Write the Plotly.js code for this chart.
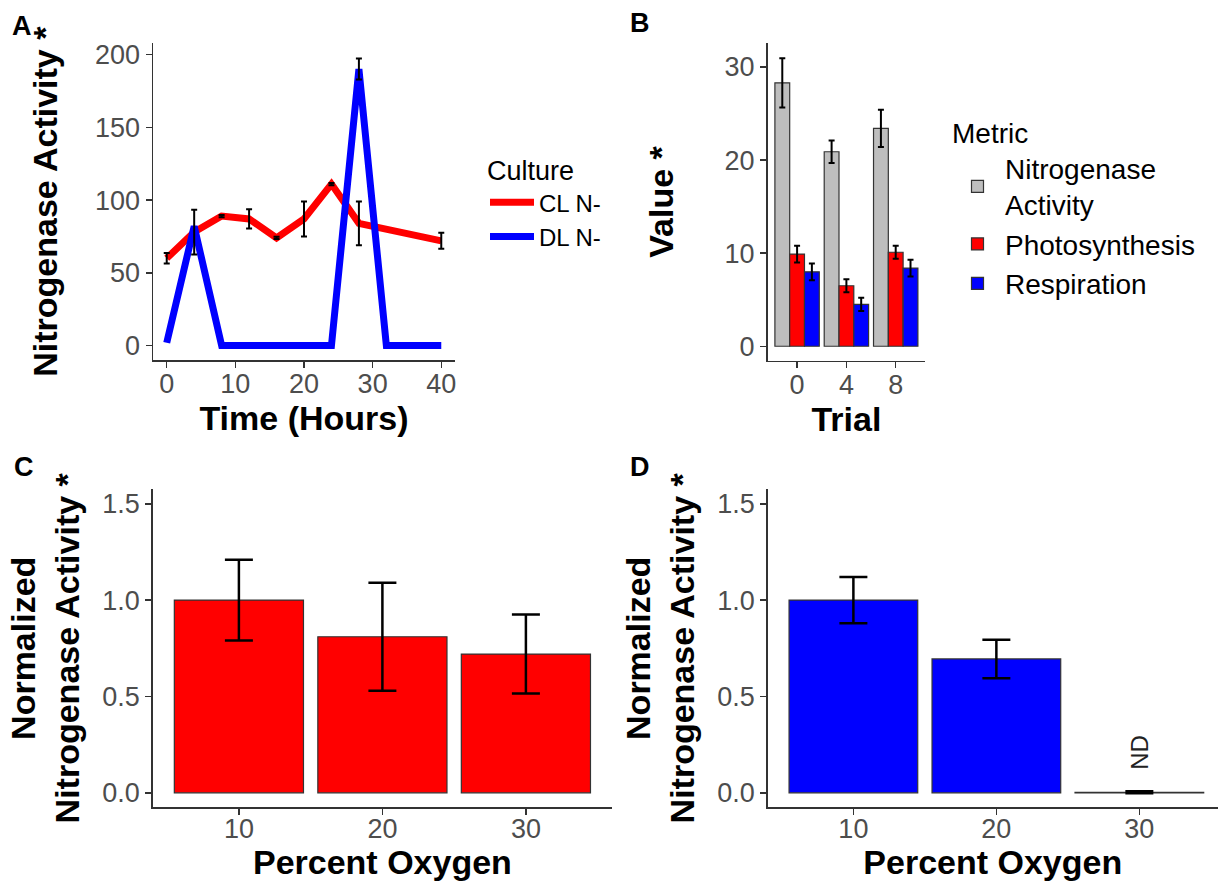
<!DOCTYPE html>
<html>
<head>
<meta charset="utf-8">
<script src="https://cdn.plot.ly/plotly-3.0.1.min.js"></script>
<style>html,body{margin:0;padding:0;background:#fff;}#chart{width:1218px;height:881px;}</style>
</head>
<body>
<div id="chart"></div>
<script>
// ---------- Panel A: nitrogenase activity over time ----------
const timeCL = [0, 4, 8, 12, 16, 20, 24, 28, 40];
const activityCL = [60, 78, 89, 87, 74, 87, 111, 84, 72];
const errorCL = [3.6, 15.4, 0.8, 6.6, 0.8, 12, 0.8, 15, 5.5];
const timeDL = [0, 4, 8, 12, 16, 20, 24, 28, 32, 40];
const activityDL = [2, 82, 0, 0, 0, 0, 0, 190, 0, 0];
const errorDL = [null, null, null, null, null, null, null, 7.2, null, null];
const cultureNames = ['CL N-', 'DL N-'];

// ---------- Panel B: metrics per trial ----------
const trials = ['0', '4', '8'];
const metricNames = ['Nitrogenase<br>Activity', 'Photosynthesis', 'Respiration'];
const nitrogenase = [28.3, 20.9, 23.4];
const nitrogenaseErr = [2.65, 1.2, 2.0];
const photosynthesis = [9.9, 6.5, 10.1];
const photosynthesisErr = [0.9, 0.7, 0.7];
const respiration = [8.0, 4.5, 8.4];
const respirationErr = [0.9, 0.7, 0.9];

// ---------- Panels C & D: normalized activity vs oxygen ----------
const oxygen = ['10', '20', '30'];
const normC = [1.0, 0.81, 0.72];
const normCErr = [0.21, 0.28, 0.205];
const normD = [1.0, 0.695, 0.003];
const normDErr = [0.12, 0.1, 0.005];
const ndLabel = 'ND';
const ndCategory = '30';
const ndY = 0.21;

const FONT = 'Liberation Sans, Arial, Helvetica, sans-serif';
const RED = '#ff0000', BLUE = '#0000ff', GREY = '#bebebe', OUTLINE = '#333333';

// only points that carry an error bar
const dlErrIdx = errorDL.map((e, i) => (e == null ? -1 : i)).filter(i => i >= 0);

const traces = [
  {x: timeCL, y: activityCL, type: 'scatter', mode: 'lines', name: cultureNames[0],
   line: {color: RED, width: 7}, xaxis: 'x', yaxis: 'y', legend: 'legend', hoverinfo: 'skip'},
  {x: timeDL, y: activityDL, type: 'scatter', mode: 'lines', name: cultureNames[1],
   line: {color: BLUE, width: 7}, xaxis: 'x', yaxis: 'y', legend: 'legend', hoverinfo: 'skip'},
  {x: timeCL, y: activityCL, type: 'scatter', mode: 'markers', marker: {size: 1, opacity: 0},
   error_y: {type: 'data', array: errorCL, visible: true, color: '#000', thickness: 2, width: 3},
   xaxis: 'x', yaxis: 'y', showlegend: false, hoverinfo: 'skip'},
  {x: dlErrIdx.map(i => timeDL[i]), y: dlErrIdx.map(i => activityDL[i]), type: 'scatter', mode: 'markers',
   marker: {size: 1, opacity: 0},
   error_y: {type: 'data', array: dlErrIdx.map(i => errorDL[i]), visible: true, color: '#000', thickness: 2, width: 3},
   xaxis: 'x', yaxis: 'y', showlegend: false, hoverinfo: 'skip'},

  {x: trials, y: nitrogenase, type: 'bar', name: metricNames[0], xaxis: 'x2', yaxis: 'y2', legend: 'legend2',
   marker: {color: GREY, line: {color: OUTLINE, width: 1.2}},
   error_y: {type: 'data', array: nitrogenaseErr, visible: true, color: '#000', thickness: 2, width: 3}},
  {x: trials, y: photosynthesis, type: 'bar', name: metricNames[1], xaxis: 'x2', yaxis: 'y2', legend: 'legend2',
   marker: {color: RED, line: {color: OUTLINE, width: 1.2}},
   error_y: {type: 'data', array: photosynthesisErr, visible: true, color: '#000', thickness: 2, width: 3}},
  {x: trials, y: respiration, type: 'bar', name: metricNames[2], xaxis: 'x2', yaxis: 'y2', legend: 'legend2',
   marker: {color: BLUE, line: {color: OUTLINE, width: 1.2}},
   error_y: {type: 'data', array: respirationErr, visible: true, color: '#000', thickness: 2, width: 3}},

  {x: oxygen, y: normC, type: 'bar', xaxis: 'x3', yaxis: 'y3', showlegend: false,
   marker: {color: RED, line: {color: OUTLINE, width: 1.2}},
   error_y: {type: 'data', array: normCErr, visible: true, color: '#000', thickness: 2.5, width: 14}},
  {x: oxygen, y: normD, type: 'bar', xaxis: 'x4', yaxis: 'y4', showlegend: false,
   marker: {color: BLUE, line: {color: OUTLINE, width: 1.2}},
   error_y: {type: 'data', array: normDErr, visible: true, color: '#000', thickness: 2.5, width: 14}}
];

function axisBase(extra) {
  return Object.assign({
    showline: true, linecolor: OUTLINE, linewidth: 1.5,
    ticks: 'outside', ticklen: 6, tickwidth: 1.5, tickcolor: OUTLINE,
    showgrid: false, zeroline: false, automargin: false, fixedrange: true,
    tickfont: {family: FONT, size: 27, color: '#4d4d4d'}
  }, extra);
}
function titleObj(text, standoff) {
  return {text: text, standoff: standoff, font: {family: FONT, size: 34, color: '#000', weight: 'bold'}};
}

const W = 1218, H = 881;
const dx = (a, b) => [a / W, b / W];
const dy = (top, bottom) => [1 - bottom / H, 1 - top / H];
const letterFont = {family: FONT, size: 27, color: '#000'};

const layout = {
  width: W, height: H,
  margin: {l: 0, r: 0, t: 0, b: 0},
  paper_bgcolor: '#fff', plot_bgcolor: 'rgba(0,0,0,0)',
  font: {family: FONT, color: '#4d4d4d'},
  barmode: 'group', bargap: 0.1, bargroupgap: 0,
  xaxis: axisBase({domain: dx(153, 455), range: [-2, 42], tickvals: [0, 10, 20, 30, 40], anchor: 'y',
    ticklabelstandoff: -7, title: titleObj('Time (Hours)', 6)}),
  yaxis: axisBase({domain: dy(43.3, 360), range: [-9.9, 207.7], tickvals: [0, 50, 100, 150, 200], anchor: 'x',
    title: titleObj('Nitrogenase Activity *', 27)}),
  xaxis2: axisBase({domain: dx(767.5, 925.3), type: 'category', range: [-0.6, 2.6], anchor: 'y2',
    ticklabelstandoff: -7, title: titleObj('Trial', 6)}),
  yaxis2: axisBase({domain: dy(43.3, 360.7), range: [-1.55, 32.55], tickvals: [0, 10, 20, 30], anchor: 'x2',
    title: titleObj('Value *', 40)}),
  xaxis3: axisBase({domain: dx(152.8, 612), type: 'category', range: [-0.6, 2.6], anchor: 'y3',
    ticklabelstandoff: -9, title: titleObj('Percent Oxygen', 4)}),
  yaxis3: axisBase({domain: dy(489.3, 807.3), range: [-0.075, 1.575], tickvals: [0, 0.5, 1, 1.5],
    tickformat: '.1f', anchor: 'x3', title: titleObj('Normalized<br>Nitrogenase Activity *', 12)}),
  xaxis4: axisBase({domain: dx(767.6, 1218), type: 'category', range: [-0.6, 2.55], anchor: 'y4',
    ticklabelstandoff: -9, title: titleObj('Percent Oxygen', 4)}),
  yaxis4: axisBase({domain: dy(489.3, 807.3), range: [-0.075, 1.575], tickvals: [0, 0.5, 1, 1.5],
    tickformat: '.1f', anchor: 'x4', title: titleObj('Normalized<br>Nitrogenase Activity *', 12)}),
  legend: {x: 485 / W, y: 1 - 145 / H, xanchor: 'left', yanchor: 'top', bgcolor: 'rgba(0,0,0,0)',
    itemwidth: 44,
    title: {text: 'Culture', font: {family: FONT, size: 27, color: '#000'}},
    font: {family: FONT, size: 24, color: '#000'}},
  legend2: {x: 950 / W, y: 1 - 107 / H, xanchor: 'left', yanchor: 'top', bgcolor: 'rgba(0,0,0,0)',
    itemwidth: 45,
    title: {text: 'Metric', font: {family: FONT, size: 28, color: '#000'}},
    font: {family: FONT, size: 28, color: '#000'}, tracegroupgap: 0},
  annotations: [
    {text: '<b>A</b>', xref: 'paper', yref: 'paper', x: 10 / W, y: 1 - 25.5 / H, xanchor: 'left', yanchor: 'middle',
     showarrow: false, font: letterFont},
    {text: '<b>B</b>', xref: 'paper', yref: 'paper', x: 628 / W, y: 1 - 23.5 / H, xanchor: 'left', yanchor: 'middle',
     showarrow: false, font: letterFont},
    {text: '<b>C</b>', xref: 'paper', yref: 'paper', x: 12 / W, y: 1 - 466.5 / H, xanchor: 'left', yanchor: 'middle',
     showarrow: false, font: letterFont},
    {text: '<b>D</b>', xref: 'paper', yref: 'paper', x: 628 / W, y: 1 - 466.5 / H, xanchor: 'left', yanchor: 'middle',
     showarrow: false, font: letterFont},
    {text: ndLabel, xref: 'x4', yref: 'y4', x: oxygen.indexOf(ndCategory), y: ndY, textangle: -90, showarrow: false,
     xanchor: 'center', yanchor: 'middle', font: {family: FONT, size: 24, color: '#222'}}
  ]
};

Plotly.newPlot('chart', traces, layout, {displayModeBar: false, staticPlot: true});
</script>
</body>
</html>
